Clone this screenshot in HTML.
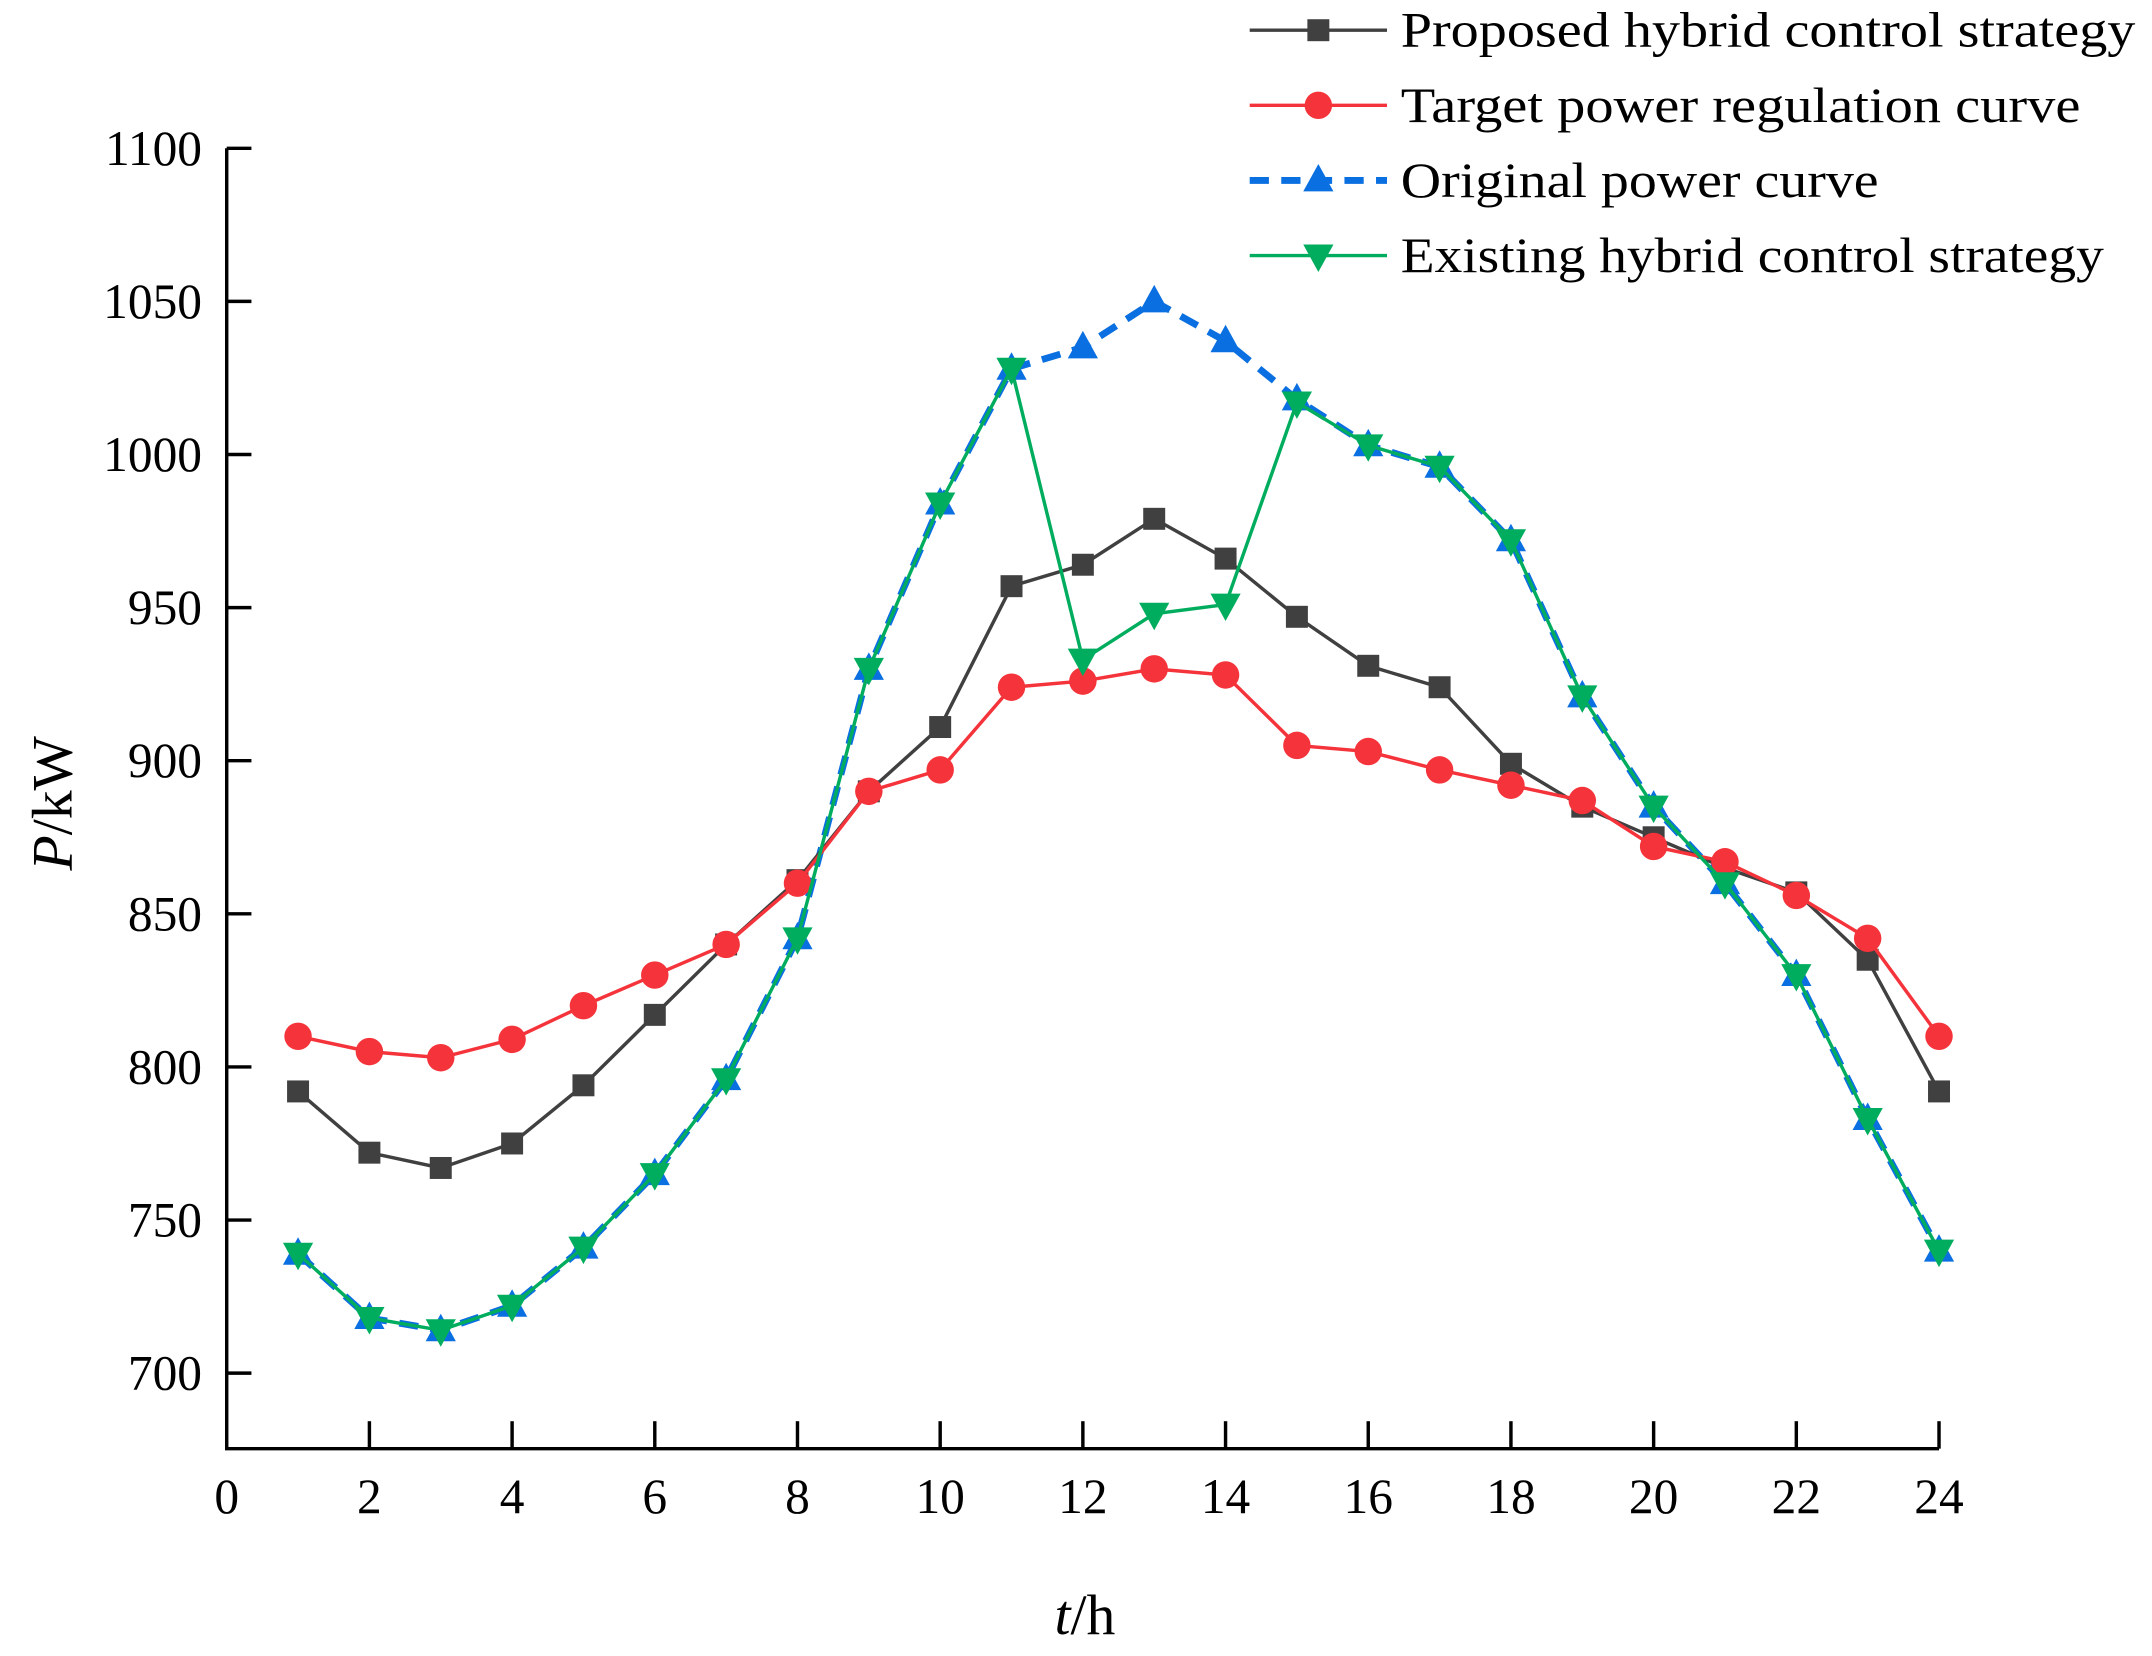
<!DOCTYPE html>
<html><head><meta charset="utf-8"><style>
html,body{margin:0;padding:0;background:#fff;}
svg{display:block;font-family:"Liberation Serif",serif;}
</style></head><body>
<svg id="chart" width="2152" height="1656" viewBox="0 0 1567 1206" xmlns="http://www.w3.org/2000/svg">
<g id="axes"></g>
<g id="series"></g>
<g id="legend"></g>
<text transform="translate(52,585) rotate(-90)" text-anchor="middle" font-size="42"><tspan font-style="italic">P</tspan>/kW</text>
<text x="790" y="1190" text-anchor="middle" font-size="42"><tspan font-style="italic">t</tspan>/h</text>
</svg>
<script>
const hours=[1,2,3,4,5,6,7,8,9,10,11,12,13,14,15,16,17,18,19,20,21,22,23,24];
const proposed=[792,772,767,775,794,817,840,861,890,911,957,964,979,966,947,931,924,899,885,875,865,857,835,792];
const target=[810,805,803,809,820,830,840,860,890,897,924,926,930,928,905,903,897,892,887,872,867,856,842,810];
const original=[739,718,714,722,741,765,796,842,930,984,1028,1035,1050,1037,1018,1003,996,972,921,885,860,830,783,740];
const existing=[739,718,714,722,741,765,796,842,930,984,1028,933,948,951,1017,1003,996,972,921,885,860,830,783,740];
const xTicks=[0,2,4,6,8,10,12,14,16,18,20,22,24];
const yTicks=[700,750,800,850,900,950,1000,1050,1100];
const NS="http://www.w3.org/2000/svg";
const X=v=>165+(v/24)*(1412-165);
const Y=v=>1000-(v-700)*(1000-108)/400;
function mk(tag,attrs,parent){const e=document.createElementNS(NS,tag);for(const k in attrs)e.setAttribute(k,attrs[k]);parent.appendChild(e);return e;}
const axes=document.getElementById('axes');
let ax=mk('path',{d:`M165,108 V1055 H1412`,fill:'none',stroke:'#000','stroke-width':2.5},axes);


xTicks.forEach(t=>{
 if(t>0){const l=mk('line',{x1:X(t),x2:X(t),y1:1055,y2:1035,stroke:'#000','stroke-width':2.5},axes);
 
 }
 const tx=mk('text',{x:X(t),y:1102,'text-anchor':'middle','font-size':36},axes);tx.textContent=t;
 
 
});
yTicks.forEach(t=>{
 const l=mk('line',{x1:165,x2:183,y1:Y(t),y2:Y(t),stroke:'#000','stroke-width':2.5},axes);
 
 
 const tx=mk('text',{x:147,y:Y(t)+12,'text-anchor':'end','font-size':36},axes);tx.textContent=t;
 
 
});
function marker(type,cx,cy,color,g){
 let e;
 if(type==='sq')e=mk('rect',{x:cx-8,y:cy-8,width:16,height:16,fill:color},g);
 else if(type==='ci')e=mk('circle',{cx:cx,cy:cy,r:10,fill:color},g);
 else if(type==='up')e=mk('polygon',{points:`${cx},${cy-12} ${cx+11},${cy+8} ${cx-11},${cy+8}`,fill:color},g);
 else e=mk('polygon',{points:`${cx},${cy+12} ${cx+11},${cy-8} ${cx-11},${cy-8}`,fill:color},g);
 return e;
}
const defs=[
 {name:'original',data:original,color:'#0a6fe0',m:'up',w:5,dash:'14,9',label:'Original power curve',len:348},
 {name:'proposed',data:proposed,color:'#404040',m:'sq',w:2.5,dash:'',label:'Proposed hybrid control strategy',len:535},
 {name:'target',data:target,color:'#f5333a',m:'ci',w:2.5,dash:'',label:'Target power regulation curve',len:495},
 {name:'existing',data:existing,color:'#00ad5e',m:'dn',w:2.5,dash:'',label:'Existing hybrid control strategy',len:512}
];
const sg=document.getElementById('series');
defs.forEach(s=>{
 const g=mk('g',{},sg);
 
 
 const p=mk('polyline',{points:hours.map((h,i)=>X(h)+','+Y(s.data[i])).join(' '),fill:'none',stroke:s.color,'stroke-width':s.w,'stroke-dasharray':s.dash},g);
 
 
 hours.forEach((h,i)=>{const m=marker(s.m,X(h),Y(s.data[i]),s.color,g);
  
  });
});
const lg=document.getElementById('legend');
const order=['proposed','target','original','existing'];
order.forEach((n,i)=>{
 const s=defs.find(d=>d.name===n);const y=22+i*54.7;
 const g=mk('g',{},lg);
 
 
 mk('line',{x1:910,x2:1010,y1:y,y2:y,stroke:s.color,'stroke-width':s.w,'stroke-dasharray':s.dash},g);
 marker(s.m,960,y,s.color,g);
 const t=mk('text',{x:1020,y:y+12,'font-size':36,textLength:s.len,lengthAdjust:'spacingAndGlyphs'},g);t.textContent=s.label;
});
</script>
</body></html>
